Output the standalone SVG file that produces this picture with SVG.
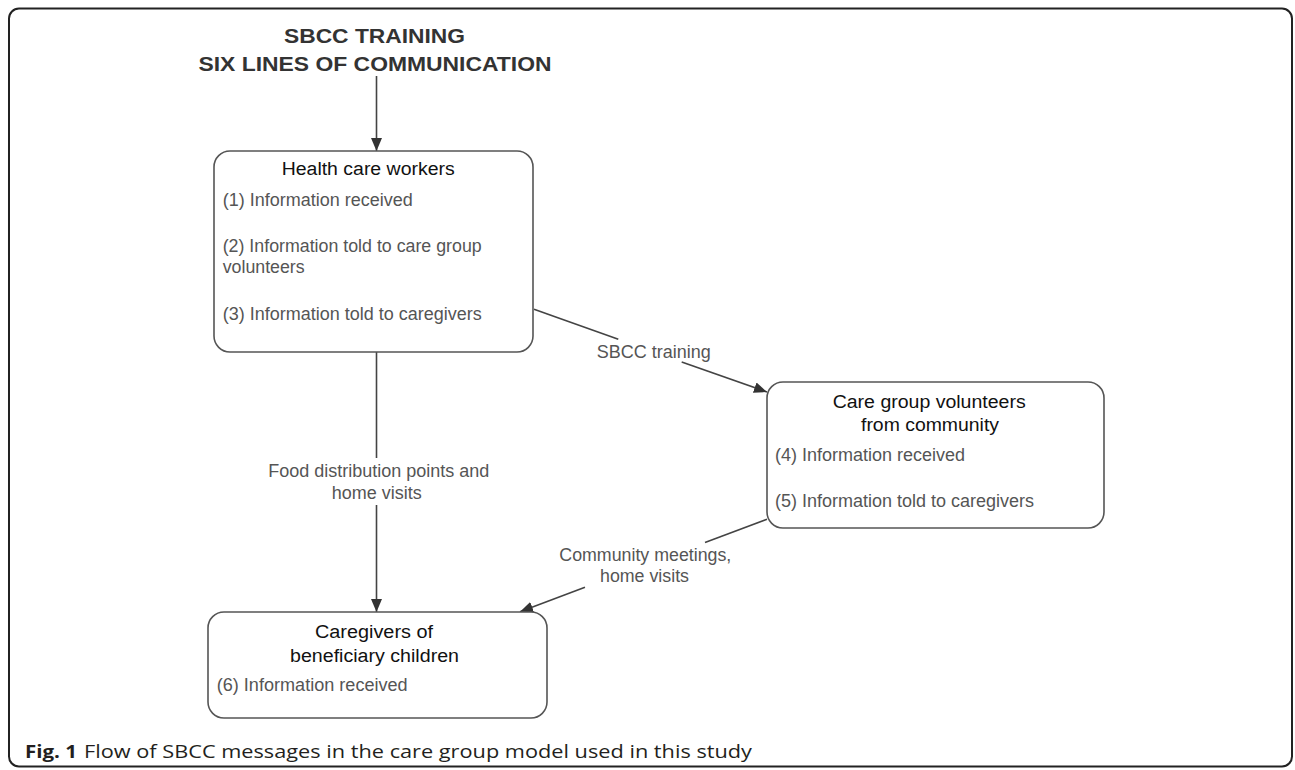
<svg xmlns="http://www.w3.org/2000/svg" width="1295" height="770" viewBox="0 0 1295 770">
<style>
.frame{fill:#fff;stroke:#222;stroke-width:2}
.box{fill:#fff;stroke:#555;stroke-width:1.6}
.ttl{font-family:"Liberation Sans",Arial,sans-serif;font-weight:bold;font-size:21px;fill:#333}
.hd{font-family:"Liberation Sans",Arial,sans-serif;font-size:18px;fill:#111}
.bd{font-family:"Liberation Sans",Arial,sans-serif;font-size:17.5px;fill:#555}
.lb{font-family:"Liberation Sans",Arial,sans-serif;font-size:17.5px;fill:#555}
.cap{font-family:"Open Sans","Noto Sans",sans-serif;font-size:17.5px;fill:#231f20}
.ln{stroke:#444;stroke-width:1.6;fill:none}
.ar{marker-end:url(#arr)}
</style>
<defs>
<marker id="arr" markerUnits="userSpaceOnUse" markerWidth="14" markerHeight="12" refX="13" refY="6" orient="auto">
<path d="M0,0.5 L13,6 L0,11.5 z" fill="#333"/>
</marker>
</defs>
<rect class="frame" x="9" y="8.5" width="1283" height="758" rx="10"/>
<g id="title">
<text class="ttl" x="284" y="43.3" textLength="181" lengthAdjust="spacingAndGlyphs">SBCC TRAINING</text>
<text class="ttl" x="198.5" y="70.7" textLength="353" lengthAdjust="spacingAndGlyphs">SIX LINES OF COMMUNICATION</text>
</g>
<g id="connectors">
<line class="ln ar" x1="376.5" y1="76" x2="376.5" y2="151"/>
<line class="ln" x1="376.5" y1="352" x2="376.5" y2="458"/>
<line class="ln ar" x1="376.5" y1="505" x2="376.5" y2="612"/>
<line class="ln" x1="534" y1="309.3" x2="618.3" y2="339.2"/>
<line class="ln ar" x1="681.7" y1="362" x2="767" y2="392"/>
<line class="ln" x1="767" y1="519.3" x2="705" y2="542.4"/>
<line class="ln ar" x1="585" y1="587.3" x2="520" y2="611.7"/>
<text class="lb" x="596.7" y="358.3" textLength="114" lengthAdjust="spacingAndGlyphs">SBCC training</text>
<text class="lb" x="268.3" y="476.5" textLength="221" lengthAdjust="spacingAndGlyphs">Food distribution points and</text>
<text class="lb" x="331.7" y="499.3" textLength="90" lengthAdjust="spacingAndGlyphs">home visits</text>
<text class="lb" x="559.3" y="560.5" textLength="172" lengthAdjust="spacingAndGlyphs">Community meetings,</text>
<text class="lb" x="600" y="581.7" textLength="89" lengthAdjust="spacingAndGlyphs">home visits</text>
</g>
<g id="health">
<rect class="box" x="214" y="151" width="319" height="201" rx="16"/>
<text class="hd" x="281.7" y="175" textLength="173" lengthAdjust="spacingAndGlyphs">Health care workers</text>
<text class="bd" x="222.7" y="205.7" textLength="190" lengthAdjust="spacingAndGlyphs">(1) Information received</text>
<text class="bd" x="222.7" y="251.5" textLength="259" lengthAdjust="spacingAndGlyphs">(2) Information told to care group</text>
<text class="bd" x="222.7" y="273.3" textLength="82" lengthAdjust="spacingAndGlyphs">volunteers</text>
<text class="bd" x="222.7" y="320" textLength="259" lengthAdjust="spacingAndGlyphs">(3) Information told to caregivers</text>
</g>
<g id="volunteers">
<rect class="box" x="767" y="382" width="337" height="146" rx="16"/>
<text class="hd" x="832.7" y="407.7" textLength="193" lengthAdjust="spacingAndGlyphs">Care group volunteers</text>
<text class="hd" x="861" y="431.3" textLength="138" lengthAdjust="spacingAndGlyphs">from community</text>
<text class="bd" x="775" y="460.7" textLength="190" lengthAdjust="spacingAndGlyphs">(4) Information received</text>
<text class="bd" x="775" y="506.7" textLength="259" lengthAdjust="spacingAndGlyphs">(5) Information told to caregivers</text>
</g>
<g id="caregivers">
<rect class="box" x="208" y="612" width="339" height="106" rx="16"/>
<text class="hd" x="315" y="637.5" textLength="118" lengthAdjust="spacingAndGlyphs">Caregivers of</text>
<text class="hd" x="290" y="661.7" textLength="169" lengthAdjust="spacingAndGlyphs">beneficiary children</text>
<text class="bd" x="216.7" y="691" textLength="191" lengthAdjust="spacingAndGlyphs">(6) Information received</text>
</g>
<g id="caption">
<text class="cap" x="25" y="758" font-weight="bold" textLength="52" lengthAdjust="spacingAndGlyphs">Fig. 1</text>
<text class="cap" x="84" y="758" textLength="668" lengthAdjust="spacingAndGlyphs">Flow of SBCC messages in the care group model used in this study</text>
</g>
</svg>
